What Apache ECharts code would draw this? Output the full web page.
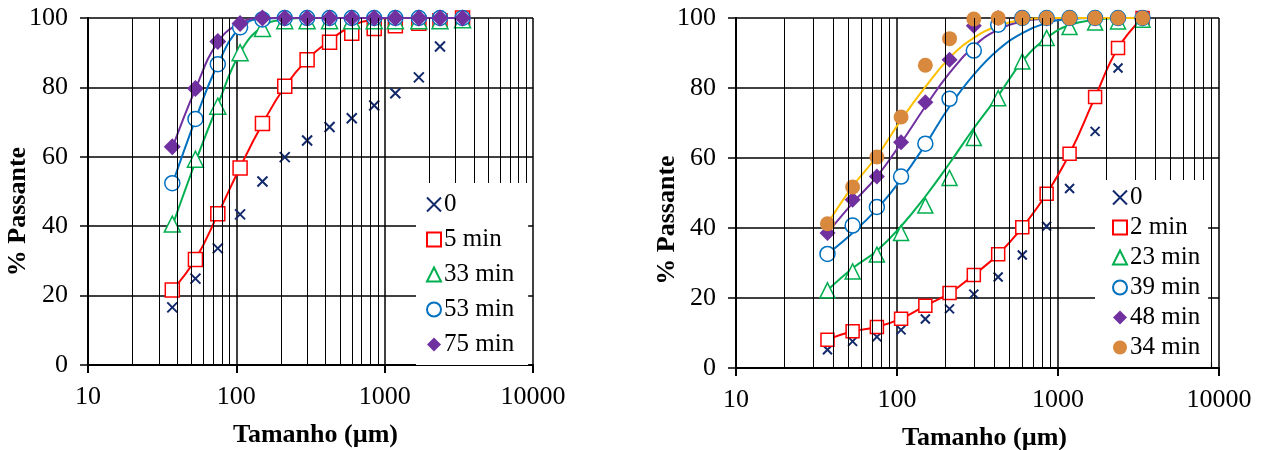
<!DOCTYPE html>
<html>
<head>
<meta charset="utf-8">
<script src="https://cdn.jsdelivr.net/npm/echarts@6/dist/echarts.min.js"></script>
<style>html,body{margin:0;padding:0;background:#fff}#c{width:1263px;height:450px}</style>
</head>
<body>
<div id="c"></div>
<script>
// ---- data ----
const sizes = [37, 53, 75, 106, 150, 212, 300, 425, 600, 850, 1180, 1700, 2360, 3350];
const xTickLabels = ['10', '100', '1000', '10000'];
const minorGrid = [20,30,40,50,60,70,80,90,200,300,400,500,600,700,800,900,2000,3000,4000,5000,6000,7000,8000,9000];

// left chart: markers
const L_0   = [16.6, 24.9, 33.6, 43.4, 52.9, 59.9, 64.7, 68.6, 71.1, 74.8, 78.3, 82.9, 91.8, 100];
const L_5   = [21.6, 30.4, 43.6, 56.8, 69.6, 80.3, 88.0, 93.0, 95.6, 97.0, 97.8, 98.5, 99.2, 100];
const L_33  = [40.6, 59.3, 74.6, 90.0, 97.0, 99.2, 99.2, 99.2, 99.2, 99.2, 99.2, 99.2, 99.2, 99.5];
const L_53  = [52.4, 70.9, 86.7, 97.3, 99.6, 100, 100, 100, 100, 100, 100, 100, 100, 100];
const L_75  = [62.9, 79.7, 93.2, 98.4, 100, 100, 100, 100, 100, 100, 100, 100, 100, 100];
// left chart: fitted curves
const L_5fit  = [21.6, 30.5, 43.4, 57.0, 69.5, 80.2, 88.0, 93.5, 97.7, 99.6, 100, 100, 100, 100];
const L_33fit = [40.0, 58.5, 75.0, 90.0, 97.5, 99.6, 100, 100, 100, 100, 100, 100, 100, 100];
const L_53fit = [52.0, 70.7, 86.6, 97.2, 99.8, 100, 100, 100, 100, 100, 100, 100, 100, 100];
const L_75fit = [62.5, 79.5, 93.0, 98.5, 100, 100, 100, 100, 100, 100, 100, 100, 100, 100];

// right chart: markers
const R_0  = [5.2, 7.6, 8.9, 10.9, 14.0, 16.9, 21.1, 26.0, 32.3, 40.5, 51.3, 67.6, 85.7, 100];
const R_2  = [8.1, 10.5, 11.7, 14.1, 17.8, 21.4, 26.6, 32.5, 40.2, 49.8, 61.2, 77.4, 91.4, 100];
const R_23 = [22.2, 27.6, 32.4, 38.6, 46.4, 54.3, 65.7, 77.1, 87.6, 94.3, 97.4, 98.7, 99.0, 99.5];
const R_39 = [32.6, 40.7, 46.0, 54.7, 64.1, 76.9, 90.7, 98.1, 100, 100, 100, 100, 100, 100];
const R_48 = [38.6, 48.1, 54.7, 64.5, 75.9, 88.1, 97.8, 100, 100, 100, 100, 100, 100, 100];
const R_34 = [41.2, 51.7, 60.3, 71.7, 86.5, 94.1, 99.7, 100, 100, 100, 100, 100, 100, 100];
// right chart: fitted curves
const R_2fit  = [8.1, 10.5, 11.7, 14.1, 17.8, 21.4, 26.6, 32.5, 40.2, 49.8, 61.2, 77.4, 91.4, 100];
const R_23fit = [22.2, 28.5, 33.5, 40.5, 49.0, 58.5, 68.5, 77.8, 87.6, 94.3, 98.0, 99.5, 100, 100];
const R_39fit = [32.6, 38.6, 45.4, 53.8, 63.8, 74.7, 83.8, 90.9, 95.7, 98.6, 99.7, 100, 100, 100];
const R_48fit = [38.6, 47.1, 54.7, 64.3, 74.7, 84.3, 91.9, 96.7, 99.0, 99.8, 100, 100, 100, 100];
const R_34fit = [41.2, 51.9, 60.5, 70.9, 80.3, 88.6, 94.3, 97.8, 99.5, 100, 100, 100, 100, 100];

// ---- styles ----
const FONT = 'Liberation Serif';
const C = {navy:'#12296b', red:'#ff0000', green:'#00b050', blue:'#0070c0', purple:'#7030a0', orange:'#d9893e', gold:'#ffc000'};
const XSYM = 'path://M0,0L10,10M10,0L0,10';

const pts = arr => sizes.map((s, i) => [s, arr[i]]);

function xAxis(gi, namePad) {
  return {
    type: 'log', logBase: 10, min: 10, max: 10000, gridIndex: gi,
    name: 'Tamanho (µm)', nameLocation: 'middle', nameGap: 57, nameMoveOverlap: false,
    nameTextStyle: {fontFamily: FONT, fontWeight: 'bold', fontSize: 26, color: '#000', padding: namePad},
    axisLine: {lineStyle: {color: '#000', width: 2}},
    axisTick: {show: true, length: 8, lineStyle: {color: '#000', width: 2}},
    axisLabel: {fontFamily: FONT, fontSize: 26, color: '#000', margin: 19,
      formatter: v => { const s = String(Math.round(v)); return xTickLabels.includes(s) ? s : ''; }},
    splitLine: {show: true, lineStyle: {color: '#000', width: 1.5}}
  };
}
function yAxis(gi, gap, namePad) {
  return {
    type: 'value', min: 0, max: 100, interval: 20, gridIndex: gi,
    name: '% Passante', nameLocation: 'middle', nameRotate: 90, nameGap: gap, nameMoveOverlap: false,
    nameTextStyle: {fontFamily: FONT, fontWeight: 'bold', fontSize: 26, color: '#000', padding: namePad},
    axisLine: {show: true, lineStyle: {color: '#000', width: 2}},
    axisTick: {show: true, length: 8, lineStyle: {color: '#000', width: 1.5}},
    axisLabel: {fontFamily: FONT, fontSize: 26, color: '#000', margin: 20},
    splitLine: {show: true, lineStyle: {color: '#000', width: 1.5}}
  };
}
function gridSeries(gi) {
  return [{
    type: 'line', xAxisIndex: gi, yAxisIndex: gi, data: [], silent: true, z: 1,
    markLine: {silent: true, symbol: ['none', 'none'], animation: false, label: {show: false},
      lineStyle: {color: '#000', width: 1, type: 'solid'},
      data: minorGrid.map(v => ({xAxis: v}))}
  }, {
    type: 'line', xAxisIndex: gi, yAxisIndex: gi, data: [], silent: true, z: 30,
    markLine: {silent: true, symbol: ['none', 'none'], animation: false, label: {show: false},
      lineStyle: {color: '#000', width: 1.2, type: 'solid'},
      data: minorGrid.filter(v => v >= 2000).map(v => [{coord: [v, 0]}, {coord: [v, 1.6]}])}
  }];
}
function fit(gi, name, arr, color) {
  return {type: 'line', name: name, xAxisIndex: gi, yAxisIndex: gi, data: pts(arr),
    smooth: 0.45, showSymbol: false, silent: true, z: 2, clip: true,
    lineStyle: {color: color, width: 2}, itemStyle: {color: color}};
}
function marks(gi, name, arr, symbol, size, fill, stroke, bw) {
  return {type: 'scatter', name: name, xAxisIndex: gi, yAxisIndex: gi, data: pts(arr),
    symbol: symbol, symbolSize: size, z: 3,
    itemStyle: {color: fill, borderColor: stroke, borderWidth: bw, opacity: 1}};
}
function legend(left, top, names, pad, gap) {
  return {orient: 'vertical', left: left, top: top, data: names, padding: pad, itemGap: gap,
    itemWidth: 14, itemHeight: 14, backgroundColor: '#ffffff', borderWidth: 0, z: 20, zlevel: 0,
    selectedMode: false,
    textStyle: {fontFamily: FONT, fontSize: 25, color: '#000', lineHeight: 25, padding: [0, 0, 0, -2]}};
}

const chart = echarts.init(document.getElementById('c'));
chart.setOption({
  animation: false,
  backgroundColor: '#fff',
  grid: [
    {left: 88, top: 18, width: 445, height: 347, outerBoundsMode: 'none', containLabel: false},
    {left: 736, top: 18, width: 483, height: 350, outerBoundsMode: 'none', containLabel: false}
  ],
  xAxis: [xAxis(0, [0, 0, 0, 10]), xAxis(1, [0, 0, 0, 14])],
  yAxis: [yAxis(0, 57, [0, 40, 0, 0]), yAxis(1, 56, [0, 54, 0, 0])],
  legend: [
    legend(416, 183, ['0', '5 min', '33 min', '53 min', '75 min'], [9, 14, 8, 10], 10),
    legend(1095, 180, ['0', '2 min', '23 min', '39 min', '48 min', '34 min'], [5, 8, 7, 17], 5)
  ],
  series: [].concat(
    gridSeries(0), gridSeries(1),
    [
      fit(0, 'f5', L_5fit, C.red),
      fit(0, 'f33', L_33fit, C.green),
      fit(0, 'f53', L_53fit, C.blue),
      fit(0, 'f75', L_75fit, C.purple),
      marks(0, '0', L_0, XSYM, 10, C.navy, C.navy, 2),
      marks(0, '5 min', L_5, 'rect', 14, '#fff', C.red, 1.5),
      marks(0, '33 min', L_33, 'triangle', 16, '#fff', C.green, 1.5),
      marks(0, '53 min', L_53, 'circle', 15, '#fff', C.blue, 1.5),
      marks(0, '75 min', L_75, 'diamond', 17, C.purple, C.purple, 0),

      fit(1, 'g2', R_2fit, C.red),
      fit(1, 'g23', R_23fit, C.green),
      fit(1, 'g39', R_39fit, C.blue),
      fit(1, 'g48', R_48fit, C.purple),
      fit(1, 'g34', R_34fit, C.gold),
      marks(1, '0', R_0, XSYM, 9, C.navy, C.navy, 2),
      marks(1, '2 min', R_2, 'rect', 13, '#fff', C.red, 1.5),
      marks(1, '23 min', R_23, 'triangle', 15, '#fff', C.green, 1.5),
      marks(1, '39 min', R_39, 'circle', 15, '#fff', C.blue, 1.5),
      marks(1, '48 min', R_48, 'diamond', 16, C.purple, C.purple, 0),
      marks(1, '34 min', R_34, 'circle', 15, C.orange, C.orange, 0)
    ]
  )
});
</script>
</body>
</html>
